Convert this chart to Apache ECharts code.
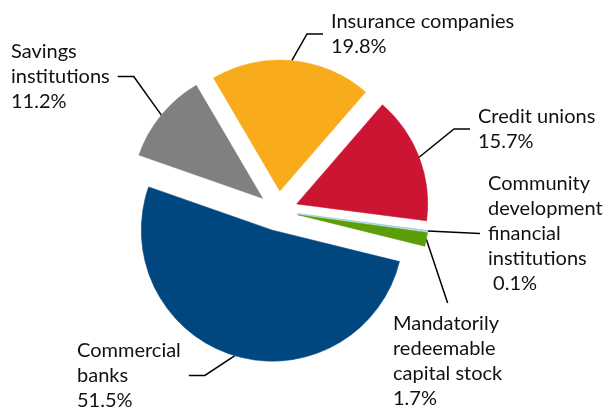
<!DOCTYPE html>
<html>
<head>
<meta charset="utf-8">
<script src="https://cdn.jsdelivr.net/npm/echarts@6/dist/echarts.min.js"></script>
<style>
  html, body { margin: 0; padding: 0; background: #ffffff; }
  #chart { width: 605px; height: 408px; }
</style>
</head>
<body>
<div id="chart"></div>
<script>
// Shares of holdings by institution type (percent), clockwise from the top
const categories = [
  'Insurance companies',
  'Credit unions',
  'Community\ndevelopment\nfinancial\ninstitutions',
  'Mandatorily\nredeemable\ncapital stock',
  'Commercial\nbanks',
  'Savings\ninstitutions'
];
const shares = [19.8, 15.7, 0.1, 1.7, 51.5, 11.2];
const valuePrefix = ['', '', ' ', '', '', ''];

// Slice colours
const sliceColors = ['#F9AC1B', '#CC1433', '#8DC8F0', '#5B9E0A', '#00477F', '#808080'];

// Pie geometry
const PIE_CENTER = [278, 211];
const PIE_RADIUS = 131;
const START_ANGLE = 120.4;
const EXPLODE = 20;

// Label placement: top-left corner of each text block and the side the leader meets
const labelSpots = [
  { x: 331, y: 9,   side: 'left',  bend: true },
  { x: 478, y: 104, side: 'left',  bend: true },
  { x: 488, y: 171, side: 'left',  bend: false },
  { x: 393, y: 311, side: 'top',   bend: false },
  { x: 77,  y: 338, side: 'right', bend: true },
  { x: 11,  y: 39,  side: 'right', bend: true }
];
const LEADER_GAP = 8;
const LEADER_BEND = 16;

const total = shares.reduce(function (a, b) { return a + b; }, 0);

function leaderLayout(params) {
  if (!params.labelLinePoints || !params.labelRect) {
    return {};
  }
  const spot = labelSpots[params.dataIndex];
  const w = params.labelRect.width;
  const h = params.labelRect.height;
  const start = params.labelLinePoints[0];
  let end;
  if (spot.side === 'left') {
    end = [spot.x - LEADER_GAP, spot.y + h / 2];
  } else if (spot.side === 'right') {
    end = [spot.x + w + LEADER_GAP, spot.y + h / 2];
  } else {
    end = [spot.x + w / 2, spot.y - LEADER_GAP];
  }
  let bend = end.slice();
  if (spot.bend) {
    bend = [end[0] + (spot.side === 'left' ? -LEADER_BEND : LEADER_BEND), end[1]];
  }
  return {
    x: spot.x,
    y: spot.y,
    align: 'left',
    verticalAlign: 'top',
    labelLinePoints: [start, bend, end]
  };
}

// One pie layer per slice, each pushed out along its own bisector (exploded pie)
let before = 0;
const series = categories.map(function (cat, k) {
  const midDeg = START_ANGLE - 360 * (before + shares[k] / 2) / total;
  before += shares[k];
  const rad = midDeg * Math.PI / 180;
  const center = [
    PIE_CENTER[0] + EXPLODE * Math.cos(rad),
    PIE_CENTER[1] - EXPLODE * Math.sin(rad)
  ];
  return {
    type: 'pie',
    center: center,
    radius: [0, PIE_RADIUS],
    startAngle: START_ANGLE,
    clockwise: true,
    avoidLabelOverlap: false,
    silent: true,
    emphasis: { disabled: true },
    label: {
      show: true,
      position: 'outside',
      fontFamily: 'Lato, "Noto Sans", sans-serif',
      fontSize: 20,
      lineHeight: 25,
      color: '#111111',
      formatter: function (p) {
        const lines = (categories[p.dataIndex] + '\n' + valuePrefix[p.dataIndex] +
          p.value.toFixed(1) + '%').split('\n');
        return lines.map(function (s) { return '{t|' + s + '}'; }).join('\n');
      },
      rich: {
        t: {
          align: 'left',
          fontFamily: 'Lato, "Noto Sans", sans-serif',
          fontSize: 20,
          lineHeight: 25,
          color: '#111111'
        }
      }
    },
    labelLine: {
      show: true,
      smooth: false,
      lineStyle: { color: '#000000', width: 1.5 }
    },
    labelLayout: leaderLayout,
    data: categories.map(function (name, i) {
      const own = i === k;
      return {
        name: name,
        value: shares[i],
        itemStyle: own
          ? { color: sliceColors[i], borderColor: sliceColors[i], borderWidth: 0.6 }
          : { color: 'rgba(0,0,0,0)', borderWidth: 0 },
        label: { show: own },
        labelLine: { show: own }
      };
    })
  };
});

const chart = echarts.init(document.getElementById('chart'), null, { renderer: 'canvas' });
chart.setOption({
  animation: false,
  backgroundColor: '#ffffff',
  series: series
});
</script>
</body>
</html>
